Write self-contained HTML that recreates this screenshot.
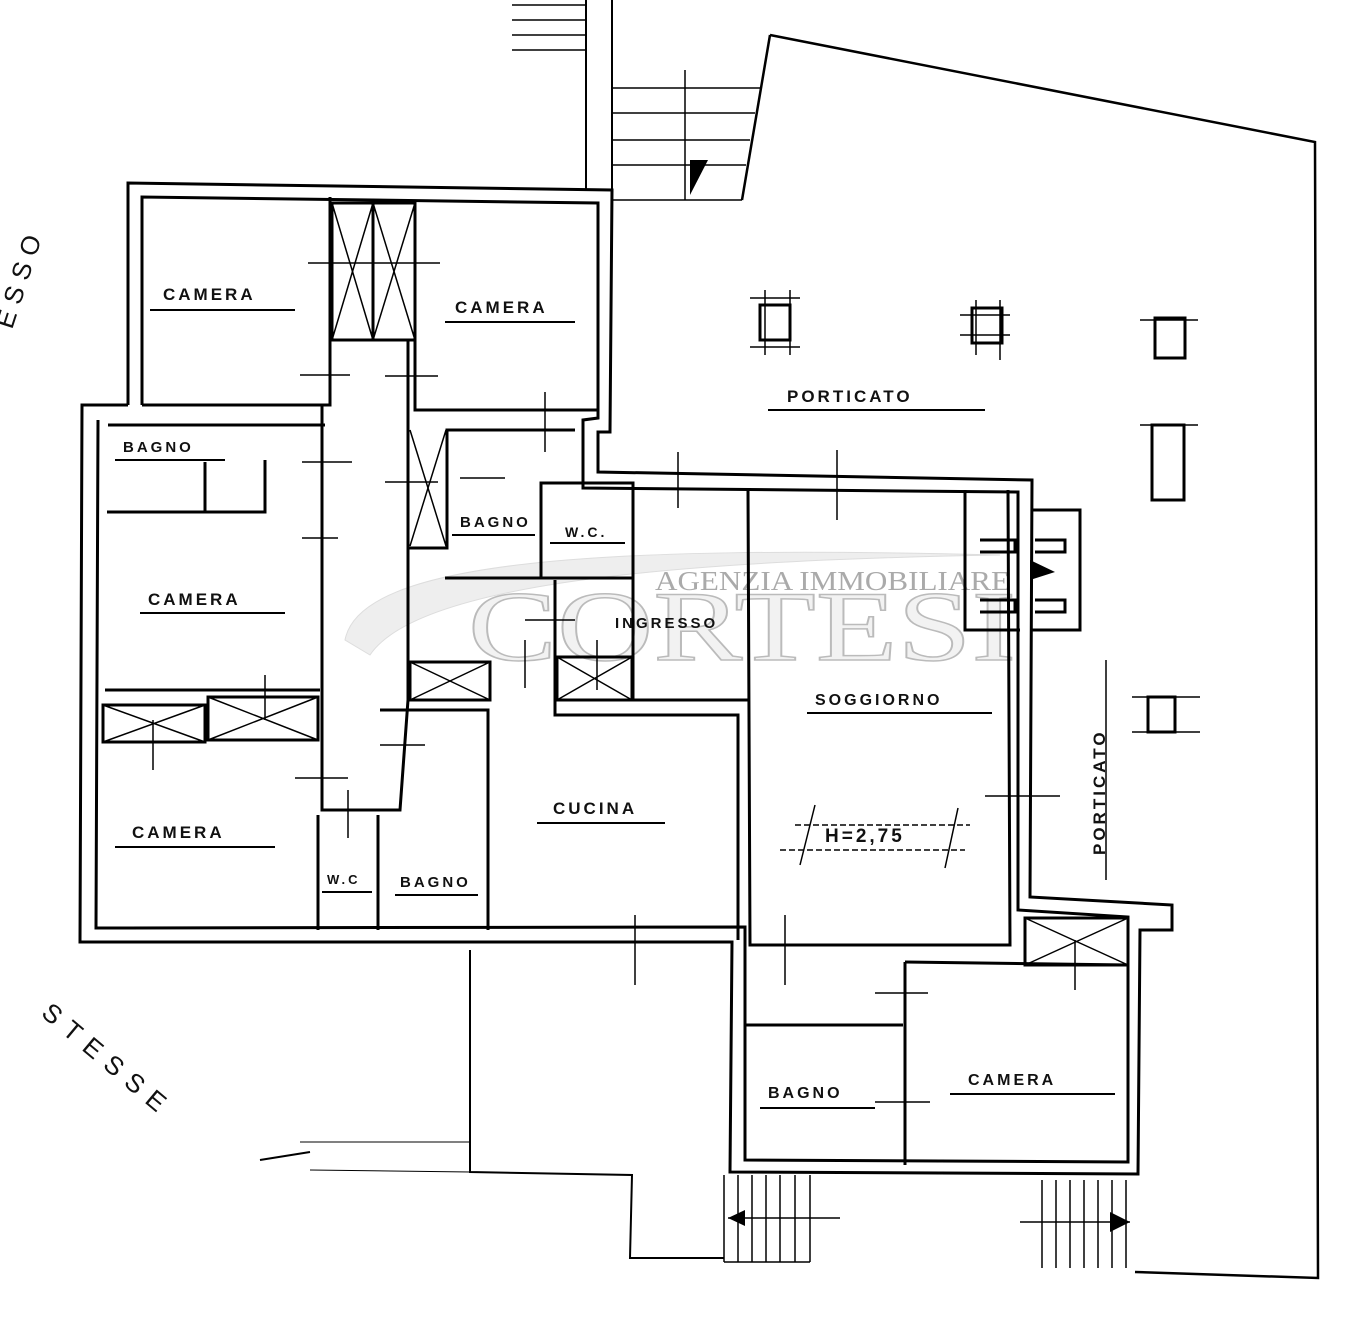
<!DOCTYPE html>
<html><head><meta charset="utf-8"><style>
html,body{margin:0;padding:0;background:#fff;width:1358px;height:1331px;overflow:hidden}
svg{display:block}
text{font-family:"Liberation Sans",sans-serif;fill:#111}
</style></head><body>
<svg width="1358" height="1331" viewBox="0 0 1358 1331" xmlns="http://www.w3.org/2000/svg" font-size="17" letter-spacing="3">
<path d="M345,640 C360,560 600,545 1000,555 C700,560 420,580 370,655 Z" fill="#eee" stroke="#ddd" stroke-width="1"/>
<text x="655" y="590" font-size="27" letter-spacing="0" textLength="355" lengthAdjust="spacingAndGlyphs" style="font-family:'Liberation Serif',serif;fill:#aaa">AGENZIA IMMOBILIARE</text>
<text x="468" y="660" font-size="100" letter-spacing="0" textLength="548" lengthAdjust="spacingAndGlyphs" style="font-family:'Liberation Serif',serif;fill:#f2f2f2;stroke:#bbb;stroke-width:1.5">CORTESI</text>
<g fill="none" stroke="#000" stroke-width="3">
<polyline points="770,35 1315,142 1318,1278 1135,1272" stroke-width="2.5"/>
<polyline points="770,35 742,200" stroke-width="2.5"/>
<polyline points="470,950 470,1172 632,1175 630,1258 724,1258" stroke-width="2"/>
<line x1="260" y1="1160" x2="310" y2="1152" stroke-width="2"/>
<line x1="300" y1="1142" x2="470" y2="1142" stroke-width="1"/>
<line x1="310" y1="1170" x2="470" y2="1172" stroke-width="1"/>
<polyline points="586,0 586,190" stroke-width="2"/><polyline points="612,0 612,190" stroke-width="2"/>
<g stroke-width="1.5">
<line x1="512" y1="5" x2="586" y2="5"/><line x1="512" y1="20" x2="586" y2="20"/><line x1="512" y1="35" x2="586" y2="35"/><line x1="512" y1="50" x2="586" y2="50"/>
<line x1="612" y1="88" x2="760" y2="88"/><line x1="612" y1="113" x2="755" y2="113"/><line x1="612" y1="140" x2="750" y2="140"/><line x1="612" y1="165" x2="746" y2="165"/><line x1="612" y1="200" x2="742" y2="200"/>
<line x1="685" y1="70" x2="685" y2="200"/>
</g>
<g stroke-width="1.5">
<line x1="724" y1="1175" x2="724" y2="1262"/><line x1="738" y1="1175" x2="738" y2="1262"/><line x1="752" y1="1175" x2="752" y2="1262"/><line x1="766" y1="1175" x2="766" y2="1262"/><line x1="780" y1="1175" x2="780" y2="1262"/><line x1="795" y1="1175" x2="795" y2="1262"/><line x1="810" y1="1175" x2="810" y2="1262"/>
<line x1="724" y1="1262" x2="810" y2="1262"/><line x1="728" y1="1218" x2="840" y2="1218"/>
<line x1="1042" y1="1180" x2="1042" y2="1268"/><line x1="1056" y1="1180" x2="1056" y2="1268"/><line x1="1070" y1="1180" x2="1070" y2="1268"/><line x1="1084" y1="1180" x2="1084" y2="1268"/><line x1="1098" y1="1180" x2="1098" y2="1268"/><line x1="1112" y1="1180" x2="1112" y2="1268"/><line x1="1126" y1="1180" x2="1126" y2="1268"/>
<line x1="1020" y1="1222" x2="1130" y2="1222"/>
</g>
<polyline points="128,405 128,183 612,190 610,432 598,432 598,472 1032,480 1030,897 1172,905 1172,930 1140,930 1138,1174 730,1172 732,942 80,942 82,405 128,405"/>
<polyline points="142,405 142,197 598,203 598,418 583,420 583,488 1018,492 1018,910 1128,917 1128,1162 745,1160 745,927 96,928 98,420"/>
<polyline points="330,197 330,405 142,405"/>
<polyline points="415,203 415,410 598,410"/>
<rect x="332" y="203" width="83" height="137"/>
<line x1="373" y1="203" x2="373" y2="340"/>
<polyline points="325,425 108,425"/>
<polyline points="322,405 322,810 400,810 408,700 408,548"/>
<polyline points="408,340 408,548 447,548 447,430 575,430"/>
<polyline points="107,512 265,512 265,460"/>
<line x1="205" y1="462" x2="205" y2="512"/>
<line x1="105" y1="690" x2="320" y2="690"/>
<rect x="103" y="705" width="102" height="37"/>
<rect x="208" y="697" width="110" height="43"/>
<polyline points="318,815 318,930"/><polyline points="378,815 378,930"/>
<polyline points="380,710 488,710 488,930"/>
<rect x="410" y="662" width="80" height="38"/>
<rect x="541" y="483" width="92" height="95"/>
<polyline points="445,578 540,578"/>
<polyline points="555,580 555,715 738,715 738,940"/>
<rect x="557" y="657" width="75" height="43"/>
<polyline points="633,488 633,700 748,700"/>
<polyline points="748,490 750,945 1010,945 1008,490"/>
<polyline points="745,1025 903,1025"/>
<polyline points="905,962 905,1165"/>
<polyline points="905,962 1128,965"/>
<rect x="1025" y="918" width="103" height="47"/>
<polyline points="965,490 965,630 1020,630"/>
<polyline points="1032,510 1080,510 1080,630 1032,630"/>
<polyline points="980,540 1015,540 1015,552 980,552"/><polyline points="980,600 1015,600 1015,612 980,612"/>
<polyline points="1035,540 1065,540 1065,552 1035,552"/><polyline points="1035,600 1065,600 1065,612 1035,612"/>
<rect x="760" y="305" width="30" height="35"/>
<rect x="972" y="308" width="30" height="35"/>
<rect x="1155" y="318" width="30" height="40"/>
<rect x="1152" y="425" width="32" height="75"/>
<rect x="1148" y="697" width="27" height="35"/>
</g>
<g stroke="#000" stroke-width="1.5">
<line x1="332" y1="203" x2="373" y2="340"/><line x1="373" y1="203" x2="332" y2="340"/>
<line x1="373" y1="203" x2="415" y2="340"/><line x1="415" y1="203" x2="373" y2="340"/>
<line x1="410" y1="430" x2="446" y2="546"/><line x1="446" y1="430" x2="410" y2="546"/>
<line x1="103" y1="705" x2="205" y2="742"/><line x1="205" y1="705" x2="103" y2="742"/>
<line x1="208" y1="697" x2="318" y2="740"/><line x1="318" y1="697" x2="208" y2="740"/>
<line x1="410" y1="662" x2="490" y2="700"/><line x1="490" y1="662" x2="410" y2="700"/>
<line x1="557" y1="657" x2="632" y2="700"/><line x1="632" y1="657" x2="557" y2="700"/>
<line x1="1025" y1="918" x2="1128" y2="965"/><line x1="1128" y1="918" x2="1025" y2="965"/>
<line x1="308" y1="263" x2="440" y2="263"/><line x1="300" y1="375" x2="350" y2="375"/><line x1="385" y1="376" x2="438" y2="376"/>
<line x1="545" y1="392" x2="545" y2="452"/><line x1="302" y1="462" x2="352" y2="462"/><line x1="385" y1="482" x2="438" y2="482"/>
<line x1="302" y1="538" x2="338" y2="538"/><line x1="460" y1="478" x2="505" y2="478"/>
<line x1="678" y1="452" x2="678" y2="508"/><line x1="837" y1="450" x2="837" y2="520"/>
<line x1="265" y1="675" x2="265" y2="720"/><line x1="153" y1="720" x2="153" y2="770"/>
<line x1="295" y1="778" x2="348" y2="778"/><line x1="348" y1="790" x2="348" y2="838"/><line x1="380" y1="745" x2="425" y2="745"/>
<line x1="525" y1="620" x2="575" y2="620"/><line x1="525" y1="640" x2="525" y2="688"/><line x1="597" y1="640" x2="597" y2="690"/>
<line x1="635" y1="915" x2="635" y2="985"/><line x1="985" y1="796" x2="1060" y2="796"/>
<line x1="785" y1="915" x2="785" y2="985"/><line x1="875" y1="993" x2="928" y2="993"/><line x1="875" y1="1102" x2="930" y2="1102"/>
<line x1="1075" y1="940" x2="1075" y2="990"/>
<line x1="750" y1="298" x2="800" y2="298"/><line x1="750" y1="347" x2="800" y2="347"/><line x1="765" y1="290" x2="765" y2="355"/><line x1="790" y1="290" x2="790" y2="355"/>
<line x1="960" y1="315" x2="1010" y2="315"/><line x1="960" y1="335" x2="1010" y2="335"/><line x1="976" y1="300" x2="976" y2="355"/><line x1="1000" y1="300" x2="1000" y2="360"/>
<line x1="1140" y1="425" x2="1198" y2="425"/><line x1="1140" y1="320" x2="1198" y2="320"/><line x1="1132" y1="697" x2="1200" y2="697"/><line x1="1132" y1="732" x2="1200" y2="732"/>
<line x1="1106" y1="660" x2="1106" y2="880"/>
<line x1="795" y1="825" x2="970" y2="825" stroke-dasharray="6,3"/><line x1="780" y1="850" x2="965" y2="850" stroke-dasharray="6,3"/>
<line x1="815" y1="805" x2="800" y2="865"/><line x1="958" y1="808" x2="945" y2="868"/>
</g>
<polygon points="690,160 708,160 690,195" fill="#000"/>
<polygon points="1030,560 1055,572 1030,580" fill="#000"/>
<polygon points="728,1218 745,1210 745,1226" fill="#000"/>
<polygon points="1130,1222 1110,1212 1110,1232" fill="#000"/>
<g font-weight="bold">
<text x="163" y="300">CAMERA</text><line x1="150" y1="310" x2="295" y2="310" stroke="#000" stroke-width="2"/>
<text x="455" y="313">CAMERA</text><line x1="445" y1="322" x2="575" y2="322" stroke="#000" stroke-width="2"/>
<text x="123" y="452" font-size="15">BAGNO</text><line x1="115" y1="460" x2="225" y2="460" stroke="#000" stroke-width="2"/>
<text x="148" y="605">CAMERA</text><line x1="140" y1="613" x2="285" y2="613" stroke="#000" stroke-width="2"/>
<text x="132" y="838">CAMERA</text><line x1="115" y1="847" x2="275" y2="847" stroke="#000" stroke-width="2"/>
<text x="460" y="527" font-size="15">BAGNO</text><line x1="452" y1="535" x2="535" y2="535" stroke="#000" stroke-width="2"/>
<text x="565" y="537" font-size="14">W.C.</text><line x1="550" y1="543" x2="625" y2="543" stroke="#000" stroke-width="2"/>
<text x="615" y="628" font-size="15">INGRESSO</text>
<text x="787" y="402">PORTICATO</text><line x1="768" y1="410" x2="985" y2="410" stroke="#000" stroke-width="2"/>
<text x="815" y="705" font-size="16">SOGGIORNO</text><line x1="807" y1="713" x2="992" y2="713" stroke="#000" stroke-width="2"/>
<text x="825" y="842" font-size="19">H=2,75</text>
<text x="553" y="814">CUCINA</text><line x1="537" y1="823" x2="665" y2="823" stroke="#000" stroke-width="2"/>
<text x="327" y="884" font-size="13">W.C</text><line x1="322" y1="892" x2="372" y2="892" stroke="#000" stroke-width="2"/>
<text x="400" y="887" font-size="15">BAGNO</text><line x1="395" y1="895" x2="478" y2="895" stroke="#000" stroke-width="2"/>
<text x="768" y="1098" font-size="16">BAGNO</text><line x1="760" y1="1108" x2="875" y2="1108" stroke="#000" stroke-width="2"/>
<text x="968" y="1085" font-size="16">CAMERA</text><line x1="950" y1="1094" x2="1115" y2="1094" stroke="#000" stroke-width="2"/>
<text transform="translate(1105,855) rotate(-90)" font-size="17">PORTICATO</text>
</g>
<text transform="translate(40,1015) rotate(40)" font-size="26" letter-spacing="10">STESSE</text>
<text transform="translate(12,330) rotate(-72)" font-size="26" letter-spacing="8">ESSO</text>
</svg>
</body></html>
